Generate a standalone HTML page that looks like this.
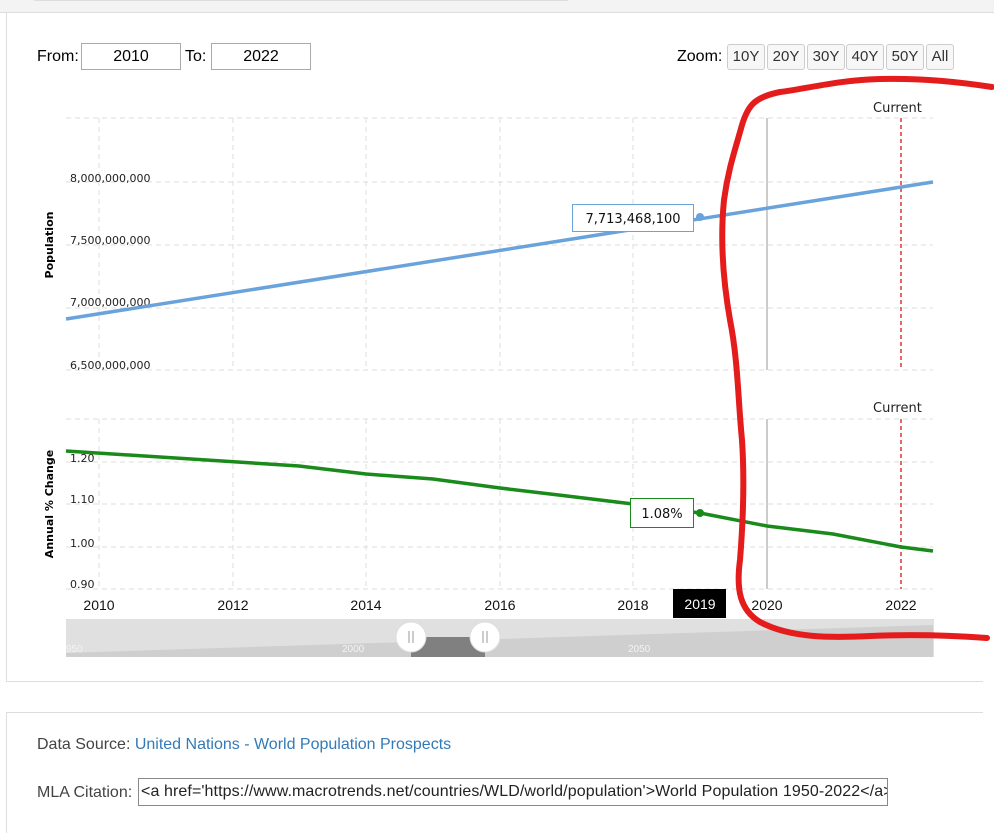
<!DOCTYPE html>
<html><head><meta charset="utf-8"><style>
body{margin:0;width:994px;height:821px;background:#fff;overflow:hidden;font-family:"Liberation Sans",sans-serif;position:relative}
.abs{position:absolute}
.inp{position:absolute;border:1px solid #aaa;text-align:center;font-size:16px;line-height:25px;height:25px;color:#000}
.zb{position:absolute;top:44px;height:24px;border:1px solid #ccc;border-radius:3px;font-size:15px;line-height:24px;text-align:center;color:#333;background:#f7f7f7}
</style></head><body>
<div class="abs" style="left:0;top:0;width:994px;height:12px;background:#f3f3f3;border-bottom:1px solid #ddd"></div>
<div class="abs" style="left:34px;top:0;width:534px;height:1px;background:#ddd"></div>
<div class="abs" style="left:6px;top:12px;width:976px;height:669px;border-left:1px solid #ddd;border-bottom:1px solid #ddd"></div>
<div class="abs" style="left:37px;top:48px;font-size:16px">From:</div>
<div class="inp" style="left:81px;top:43px;width:98px">2010</div>
<div class="abs" style="left:185px;top:48px;font-size:16px">To:</div>
<div class="inp" style="left:211px;top:43px;width:98px">2022</div>
<div class="abs" style="left:677px;top:48px;font-size:16px">Zoom:</div>
<div class="zb" style="left:727px;width:36px">10Y</div>
<div class="zb" style="left:767px;width:36px">20Y</div>
<div class="zb" style="left:807px;width:36px">30Y</div>
<div class="zb" style="left:846px;width:36px">40Y</div>
<div class="zb" style="left:886px;width:36px">50Y</div>
<div class="zb" style="left:926px;width:26px">All</div>

<svg class="abs" style="left:0;top:0" width="994" height="821" font-family="'DejaVu Sans',sans-serif">
<g stroke="#ddd" stroke-dasharray="5,4" stroke-width="1">
<line x1="66" y1="118" x2="933" y2="118"/><line x1="66" y1="182" x2="933" y2="182"/><line x1="66" y1="245" x2="933" y2="245"/><line x1="66" y1="308" x2="933" y2="308"/><line x1="66" y1="370" x2="933" y2="370"/>
<line x1="66" y1="419" x2="933" y2="419"/><line x1="66" y1="462" x2="933" y2="462"/><line x1="66" y1="504" x2="933" y2="504"/><line x1="66" y1="547" x2="933" y2="547"/><line x1="66" y1="589" x2="933" y2="589"/>
<line x1="99" y1="118" x2="99" y2="370"/><line x1="233" y1="118" x2="233" y2="370"/><line x1="366" y1="118" x2="366" y2="370"/><line x1="500" y1="118" x2="500" y2="370"/><line x1="633" y1="118" x2="633" y2="370"/>
<line x1="99" y1="419" x2="99" y2="589"/><line x1="233" y1="419" x2="233" y2="589"/><line x1="366" y1="419" x2="366" y2="589"/><line x1="500" y1="419" x2="500" y2="589"/><line x1="633" y1="419" x2="633" y2="589"/>
</g>
<line x1="767" y1="118" x2="767" y2="370" stroke="#bbb" stroke-width="1.5"/>
<line x1="767" y1="419" x2="767" y2="589" stroke="#bbb" stroke-width="1.5"/>
<line x1="901" y1="118" x2="901" y2="370" stroke="#e0333a" stroke-dasharray="4,3" stroke-width="1.5"/>
<line x1="901" y1="419" x2="901" y2="589" stroke="#e0333a" stroke-dasharray="4,3" stroke-width="1.5"/>
<g font-size="13" fill="#222"><text x="873" y="112">Current</text><text x="873" y="412">Current</text></g>
<g font-size="11" fill="#222">
<text x="70" y="182">8,000,000,000</text><text x="70" y="244">7,500,000,000</text><text x="70" y="306">7,000,000,000</text><text x="70" y="369">6,500,000,000</text>
<text x="70" y="462">1.20</text><text x="70" y="503">1.10</text><text x="70" y="547">1.00</text><text x="70" y="588">0.90</text>
</g>
<g font-size="11" font-weight="bold" fill="#000">
<text transform="translate(53,245) rotate(-90)" text-anchor="middle">Population</text>
<text transform="translate(53,504) rotate(-90)" text-anchor="middle">Annual % Change</text>
</g>
<polyline points="66,319 933,182" stroke="#6aa3db" stroke-width="3.5" fill="none"/>
<polyline points="66,451 299,466 366,474 433,479 500,488 567,496 633,504 700,513 767,526 833,534 901,547 933,551" stroke="#1a8a1a" stroke-width="3.5" fill="none"/>
<circle cx="700" cy="217" r="4" fill="#6aa3db"/>
<circle cx="700" cy="513" r="4" fill="#1a8a1a"/>
<rect x="572.5" y="204.5" width="121" height="27" fill="#fff" stroke="#6aa3db"/>
<text x="633" y="223" font-size="13" text-anchor="middle" fill="#111">7,713,468,100</text>
<rect x="630.5" y="498.5" width="63" height="29" fill="#fff" stroke="#1a8a1a"/>
<text x="662" y="518" font-size="13" text-anchor="middle" fill="#111">1.08%</text>
<g font-size="14" fill="#111" font-family="'Liberation Sans',sans-serif" text-anchor="middle">
<text x="99" y="610">2010</text><text x="233" y="610">2012</text><text x="366" y="610">2014</text><text x="500" y="610">2016</text><text x="633" y="610">2018</text><text x="767" y="610">2020</text><text x="901" y="610">2022</text>
</g>
<rect x="673" y="589" width="53" height="29" fill="#000"/>
<text x="700" y="609" font-size="14" fill="#fff" text-anchor="middle" font-family="'Liberation Sans',sans-serif">2019</text>
<rect x="66" y="619" width="868" height="38" fill="#e0e0e0"/>
<polygon points="66,653 933,625 933,657 66,657" fill="#cfcfcf"/>
<rect x="411" y="637" width="74" height="20" fill="#808080"/>
<g font-size="10" fill="#f3f3f3" font-family="'Liberation Sans',sans-serif"><text x="66" y="652">950</text><text x="342" y="652">2000</text><text x="628" y="652">2050</text></g>
<circle cx="411" cy="637" r="15" fill="#fff" stroke="#ddd"/><circle cx="485" cy="637" r="15" fill="#fff" stroke="#ddd"/>
<g stroke="#999"><line x1="409" y1="631" x2="409" y2="643"/><line x1="413" y1="631" x2="413" y2="643"/><line x1="483" y1="631" x2="483" y2="643"/><line x1="487" y1="631" x2="487" y2="643"/></g>
<path d="M992,87 C960,82 920,78 880,79 C840,80 810,88 780,92 C755,97 748,105 742,125 C735,150 728,170 724,200 C720,240 723,280 730,320 C738,360 738,400 742,440 C744,470 744,510 740,560 C736,590 740,610 760,622 C790,638 830,638 870,636 C920,634 960,636 987,638" stroke="#e41c1c" stroke-width="6" fill="none" stroke-linecap="round"/>
</svg>

<div class="abs" style="left:6px;top:712px;width:976px;height:120px;border-left:1px solid #ddd;border-top:1px solid #ddd"></div>
<div class="abs" style="left:37px;top:736px;font-size:16px;color:#444">Data Source: <span style="color:#337ab7">United Nations - World Population Prospects</span></div>
<div class="abs" style="left:37px;top:784px;font-size:16px;color:#444">MLA Citation:</div>
<div class="abs" style="left:138px;top:778px;width:746px;height:26px;border:1px solid #888;font-size:16px;line-height:26px;color:#222;overflow:hidden;white-space:nowrap;padding-left:2px;letter-spacing:0.1px">&lt;a href='https://www.macrotrends.net/countries/WLD/world/population'&gt;World Population 1950-2022&lt;/a&gt;</div>
</body></html>
